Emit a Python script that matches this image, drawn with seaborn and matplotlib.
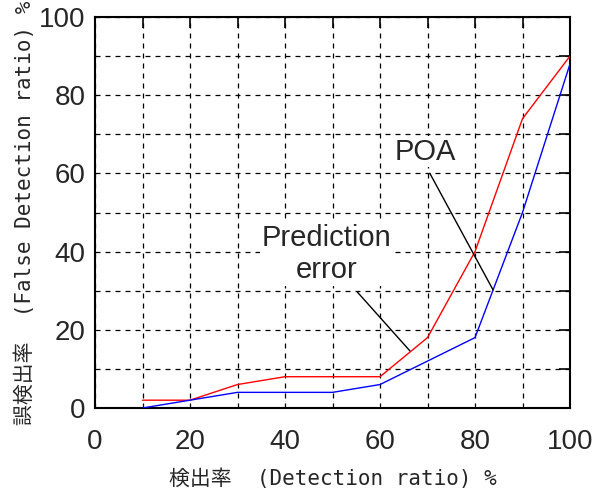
import matplotlib
matplotlib.use("Agg")
import matplotlib.pyplot as plt
import seaborn as sns
import pandas as pd
import numpy as np

# Data
detection = [10, 20, 30, 40, 50, 60, 70, 80, 90, 100]
pred_error = [2, 2, 6, 8, 8, 8, 18, 40, 74, 90]
poa = [0, 2, 4, 4, 4, 6, 12, 18, 50, 88]
series_names = ["Prediction error", "POA"]
xticks = [0, 20, 40, 60, 80, 100]
yticks = [0, 20, 40, 60, 80, 100]

df = pd.DataFrame({
    "x": detection * 2,
    "y": pred_error + poa,
    "series": [series_names[0]] * len(detection) + [series_names[1]] * len(detection),
})

sns.set_style("white")
plt.rcParams['font.family'] = ['Liberation Sans', 'DejaVu Sans']

fig = plt.figure(figsize=(5.95, 4.97), dpi=100)
ax = fig.add_axes([95/595, 1 - 408/497, (570-95)/595, (408-17)/497])

sns.lineplot(data=df, x="x", y="y", hue="series",
             palette={"Prediction error": "#ff0000", "POA": "#0000ff"},
             linewidth=1.0, legend=False, ax=ax, zorder=3)

ax.set_xlim(0, 100)
ax.set_ylim(0, 100)
ax.set_xticks(xticks)
ax.set_yticks(yticks)
ax.set_xticks(np.arange(10, 100, 20), minor=True)
ax.set_yticks(np.arange(10, 100, 20), minor=True)
ax.tick_params(which='both', direction='in', top=True, right=True,
               length=8, width=1.2, color='black')
ax.tick_params(axis='x', which='major', labelsize=20, pad=15)
ax.tick_params(axis='y', which='major', labelsize=20, pad=7)
ax.grid(True, which='both', color='black', linestyle=(0, (4, 4)), linewidth=0.9)
for s in ax.spines.values():
    s.set_color('black')
    s.set_linewidth(1.5)

lab_font = ['DejaVu Sans Mono', 'Noto Sans CJK JP']
ax.set_xlabel("検出率  (Detection ratio) %", family=lab_font, fontsize=15, labelpad=10)
ax.set_ylabel("誤検出率  (False Detection ratio) %", family=lab_font, fontsize=15, labelpad=3)

# Annotations
ax.text(69.5, 65.5, "POA", fontsize=21, ha='center', va='center', zorder=4,
        bbox=dict(facecolor='white', edgecolor='none', pad=1))
ax.text(48.8, 39.4, "Prediction\nerror", fontsize=21, ha='center', va='center',
        linespacing=1.2, zorder=4,
        bbox=dict(facecolor='white', edgecolor='none', pad=1))
ax.annotate("", xy=(83.8, 30.2), xytext=(70.5, 60.0),
            arrowprops=dict(arrowstyle='-', color='black', lw=1, shrinkA=0, shrinkB=0), zorder=4)
ax.annotate("", xy=(66.3, 14.6), xytext=(55.2, 29.7),
            arrowprops=dict(arrowstyle='-', color='black', lw=1, shrinkA=0, shrinkB=0), zorder=4)

fig.savefig("out.png", dpi=100)
